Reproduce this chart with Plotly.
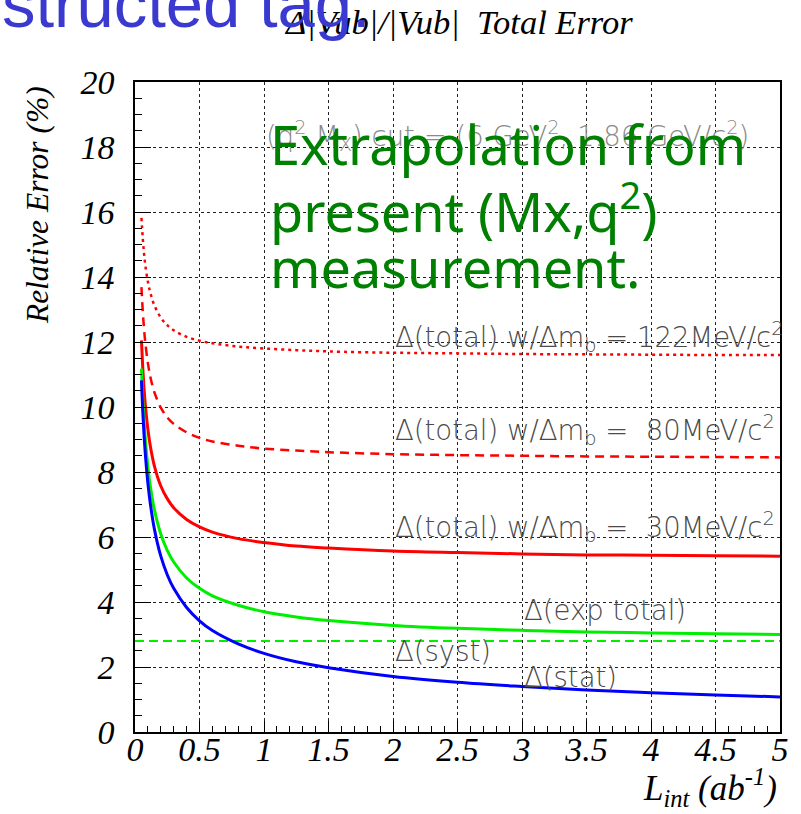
import plotly.graph_objects as go

# Integrated luminosity sample points (ab^-1)
lumi = [0.05, 0.06, 0.07, 0.08, 0.10, 0.12, 0.15, 0.20, 0.25, 0.30, 0.40, 0.50,
        0.60, 0.80, 1.00, 1.25, 1.50, 2.00, 2.50, 3.00, 3.50, 4.00, 4.50, 5.00]

# Relative errors on |Vub| (%)
err_stat = [10.82, 9.88, 9.15, 8.56, 7.65, 6.99, 6.25, 5.41, 4.84, 4.42, 3.83, 3.42,
            3.12, 2.71, 2.42, 2.16, 1.98, 1.71, 1.53, 1.40, 1.29, 1.21, 1.14, 1.08]
err_exp_total = [11.18, 10.27, 9.57, 9.01, 8.15, 7.53, 6.85, 6.09, 5.59, 5.23, 4.74, 4.42,
                 4.19, 3.90, 3.70, 3.54, 3.43, 3.28, 3.19, 3.13, 3.08, 3.05, 3.02, 3.00]
err_total_30 = [12.05, 11.21, 10.57, 10.07, 9.31, 8.77, 8.19, 7.57, 7.18, 6.90, 6.54, 6.31,
                6.15, 5.95, 5.83, 5.72, 5.66, 5.57, 5.52, 5.48, 5.45, 5.44, 5.42, 5.41]
err_total_80 = [13.69, 12.96, 12.41, 11.98, 11.35, 10.91, 10.46, 9.98, 9.68, 9.48, 9.22, 9.05,
                8.94, 8.81, 8.72, 8.66, 8.61, 8.55, 8.52, 8.50, 8.48, 8.47, 8.46, 8.45]
err_total_122 = [15.82, 15.20, 14.73, 14.37, 13.85, 13.50, 13.13, 12.75, 12.52, 12.36, 12.16, 12.04,
                 11.96, 11.86, 11.80, 11.75, 11.71, 11.67, 11.65, 11.63, 11.62, 11.61, 11.60, 11.60]

syst_lumi = [0.0, 5.0]
err_syst = [2.8, 2.8]

x_ticks = [0, 0.5, 1, 1.5, 2, 2.5, 3, 3.5, 4, 4.5, 5]
x_tick_text = ["0", "0.5", "1", "1.5", "2", "2.5", "3", "3.5", "4", "4.5", "5"]
y_ticks = [0, 2, 4, 6, 8, 10, 12, 14, 16, 18, 20]

RED, GREEN, BLUE = "#ff0000", "#00ee00", "#0000ff"

fig = go.Figure()
fig.add_trace(go.Scatter(x=syst_lumi, y=err_syst, mode="lines",
                         line=dict(color=GREEN, width=2, dash="9px,5px")))
fig.add_trace(go.Scatter(x=lumi, y=err_total_122, mode="lines", line_shape="spline",
                         line=dict(color=RED, width=2.5, dash="3px,4px")))
fig.add_trace(go.Scatter(x=lumi, y=err_total_80, mode="lines", line_shape="spline",
                         line=dict(color=RED, width=2.5, dash="9px,6px")))
fig.add_trace(go.Scatter(x=lumi, y=err_total_30, mode="lines", line_shape="spline",
                         line=dict(color=RED, width=3)))
fig.add_trace(go.Scatter(x=lumi, y=err_exp_total, mode="lines", line_shape="spline",
                         line=dict(color=GREEN, width=3)))
fig.add_trace(go.Scatter(x=lumi, y=err_stat, mode="lines", line_shape="spline",
                         line=dict(color=BLUE, width=3)))

serif_it = dict(family="Liberation Serif, Times New Roman, serif", style="italic",
                color="black")
label_font = dict(family="DejaVu Sans, sans-serif", size=27.5, color="#4a4a4a", weight=300)
note_font = dict(family="Comic Sans MS, Noto Sans, sans-serif", size=54, color="#008000")
sp = "\u00a0"

annotations = [
    # plot title
    dict(text="Δ|Vub|/|Vub|" + sp * 2 + "Total Error", xref="paper", yref="paper",
         x=0.502, y=1.093, xanchor="center", yanchor="middle", showarrow=False,
         font=dict(serif_it, size=34.5)),
    # axis titles
    dict(text="Relative Error (%)", xref="paper", yref="paper", x=-0.150, y=0.811,
         xanchor="center", yanchor="middle", textangle=-90, showarrow=False,
         font=dict(serif_it, size=31.5)),
    dict(text="L<sub>int</sub> (ab<sup>-1</sup>)", xref="paper", yref="paper",
         x=0.999, y=-0.086, xanchor="right", yanchor="middle", showarrow=False,
         font=dict(serif_it, size=35)),
    # cut description
    dict(text="(q<sup>2</sup>,M<sub>X</sub>) cut = (6 GeV<sup>2</sup>, 1.86 GeV/c<sup>2</sup>)",
         x=1.0, y=18.35, xanchor="left", yanchor="middle", showarrow=False,
         font=dict(label_font, color="#8a8a8a")),
    # curve labels
    dict(text="Δ(total) w/Δm<sub>b</sub> = 122MeV/c<sup>2</sup>", x=2.0, y=12.15,
         xanchor="left", yanchor="middle", showarrow=False, font=label_font),
    dict(text="Δ(total) w/Δm<sub>b</sub> =" + sp * 2 + "80MeV/c<sup>2</sup>", x=2.0, y=9.3,
         xanchor="left", yanchor="middle", showarrow=False, font=label_font),
    dict(text="Δ(total) w/Δm<sub>b</sub> =" + sp * 2 + "30MeV/c<sup>2</sup>", x=2.0, y=6.3,
         xanchor="left", yanchor="middle", showarrow=False, font=label_font),
    dict(text="Δ(exp total)", x=3.0, y=3.75, xanchor="left", yanchor="middle",
         showarrow=False, font=label_font),
    dict(text="Δ(syst)", x=2.0, y=2.5, xanchor="left", yanchor="middle",
         showarrow=False, font=label_font),
    dict(text="Δ(stat)", x=3.0, y=1.68, xanchor="left", yanchor="middle",
         showarrow=False, font=label_font),
    # overlaid note
    dict(text="Extrapolation from", x=1.03, y=18.1, xanchor="left", yanchor="middle",
         showarrow=False, font=note_font),
    dict(text="present (Mx,q<sup>2</sup>)", x=1.03, y=16.1, xanchor="left", yanchor="middle",
         showarrow=False, font=note_font),
    dict(text="measurement.", x=1.03, y=14.3, xanchor="left", yanchor="middle",
         showarrow=False, font=note_font),
    # slide text fragment at the top
    dict(text="structed tag.", xref="paper", yref="paper", x=-0.209, y=1.120,
         xanchor="left", yanchor="middle", showarrow=False,
         font=dict(family="Liberation Sans, Arial, sans-serif", size=67, color="#3a3ad0")),
]

axis_common = dict(
    showline=True, linecolor="black", linewidth=1.5, mirror=True,
    ticks="inside", tickcolor="black", tickwidth=1,
    showgrid=True, gridcolor="#222222", gridwidth=1, griddash="3px,3px",
    zeroline=False, tickfont=dict(serif_it, size=34),
)

fig.update_layout(
    width=801, height=814,
    margin=dict(l=135, r=14, t=82, b=82),
    paper_bgcolor="white", plot_bgcolor="white",
    showlegend=False,
    annotations=annotations,
    xaxis=dict(axis_common, range=[0, 5], tickvals=x_ticks, ticktext=x_tick_text,
               ticklen=11, ticklabelstandoff=-14,
               minor=dict(dtick=0.1, ticklen=6, ticks="inside", tickcolor="black",
                          showgrid=False)),
    yaxis=dict(axis_common, range=[0, 20], tickvals=y_ticks, ticklen=16,
               ticklabelstandoff=12,
               minor=dict(dtick=0.5, ticklen=7, ticks="inside", tickcolor="black",
                          showgrid=False)),
)

fig.write_html("out.html")
